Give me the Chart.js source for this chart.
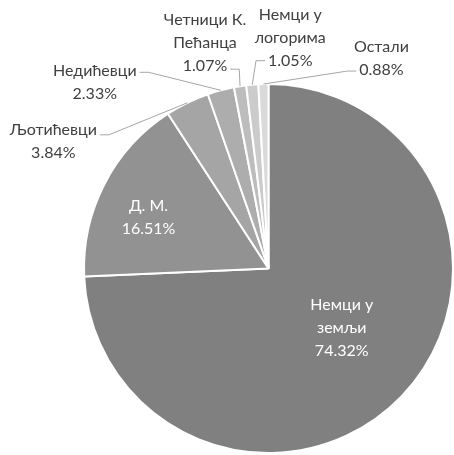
<!DOCTYPE html>
<html>
<head>
<meta charset="utf-8">
<script src="https://cdn.jsdelivr.net/npm/chart.js@4"></script>
<style>
  html, body { margin: 0; padding: 0; background: #fff; }
  #wrap { width: 454px; height: 455px; position: relative; }
</style>
</head>
<body>
<div id="wrap"><canvas id="pieChart"></canvas></div>
<script>
// data
const categories = [
  "Немци у земљи",
  "Д. М.",
  "Љотићевци",
  "Недићевци",
  "Четници К. Пећанца",
  "Немци у логорима",
  "Остали",
];
const shares = [74.32, 16.51, 3.84, 2.33, 1.07, 1.05, 0.88];

// how each label breaks into lines
const labelLines = [
  ["Немци у", "земљи"],
  ["Д. М."],
  ["Љотићевци"],
  ["Недићевци"],
  ["Четници К.", "Пећанца"],
  ["Немци у", "логорима"],
  ["Остали"],
];

const sliceColors = ["#808080", "#929292", "#a5a5a5", "#adadad", "#bdbdbd", "#cbcbcb", "#dadada"];

// label placement relative to the outer middle of each slice
// inside: label sits on the slice, otherwise a leader line is drawn
const labelLayout = [
  { inside: true, dx: -60, dy: -68 },
  { inside: true, dx: 44, dy: 33 },
  { dx: -134, dy: 39, ly: -7 },
  { dx: -126, dy: -8, ly: -10 },
  { dx: -35, dy: -43, ly: 26 },
  { dx: 38, dy: -47, ly: 23 },
  { dx: 118, dy: -26, ly: 13 },
];

const FONT = "16px Lato, 'Open Sans', sans-serif";
const LINE_H = 23;

const pieLabels = {
  id: "pieLabels",
  afterDatasetsDraw(chart) {
    const ctx = chart.ctx;
    const arcs = chart.getDatasetMeta(0).data;
    ctx.save();
    ctx.font = FONT;
    ctx.textAlign = "center";
    ctx.textBaseline = "middle";
    arcs.forEach((arc, i) => {
      const { x, y, startAngle, endAngle, outerRadius } = arc.getProps(
        ["x", "y", "startAngle", "endAngle", "outerRadius"], true);
      const mid = (startAngle + endAngle) / 2;
      const ex = x + Math.cos(mid) * outerRadius;
      const ey = y + Math.sin(mid) * outerRadius;
      const lay = labelLayout[i];
      const lines = labelLines[i].concat([shares[i].toFixed(2) + "%"]);
      const cx = ex + lay.dx;
      const cy = ey + lay.dy;
      const top = cy - (lines.length - 1) * LINE_H / 2;
      ctx.fillStyle = lay.inside ? "#ffffff" : "#404040";
      lines.forEach((t, k) => ctx.fillText(t, cx, top + k * LINE_H));

      if (!lay.inside) {
        // pick the text line nearest to the leader's attach height
        const ay = cy + lay.ly;
        let k = Math.round((ay - top) / LINE_H);
        k = Math.max(0, Math.min(lines.length - 1, k));
        const w = ctx.measureText(lines[k]).width;
        const side = cx < ex ? 1 : -1;
        const ax = cx + side * (w / 2 + 3);
        const bx = ax + side * 9;
        ctx.strokeStyle = "#a6a6a6";
        ctx.lineWidth = 1;
        ctx.beginPath();
        ctx.moveTo(ax, ay);
        ctx.lineTo(bx, ay);
        ctx.lineTo(ex, ey);
        ctx.stroke();
      }
    });
    ctx.restore();
  },
};

new Chart(document.getElementById("pieChart"), {
  type: "pie",
  data: {
    labels: categories,
    datasets: [{
      data: shares,
      backgroundColor: sliceColors,
      borderColor: "#ffffff",
      borderWidth: 2,
    }],
  },
  options: {
    responsive: true,
    maintainAspectRatio: false,
    animation: false,
    layout: { padding: { left: 83, right: 0, top: 83, bottom: 1 } },
    plugins: {
      legend: { display: false },
      tooltip: { enabled: false },
    },
  },
  plugins: [pieLabels],
});
</script>
</body>
</html>
